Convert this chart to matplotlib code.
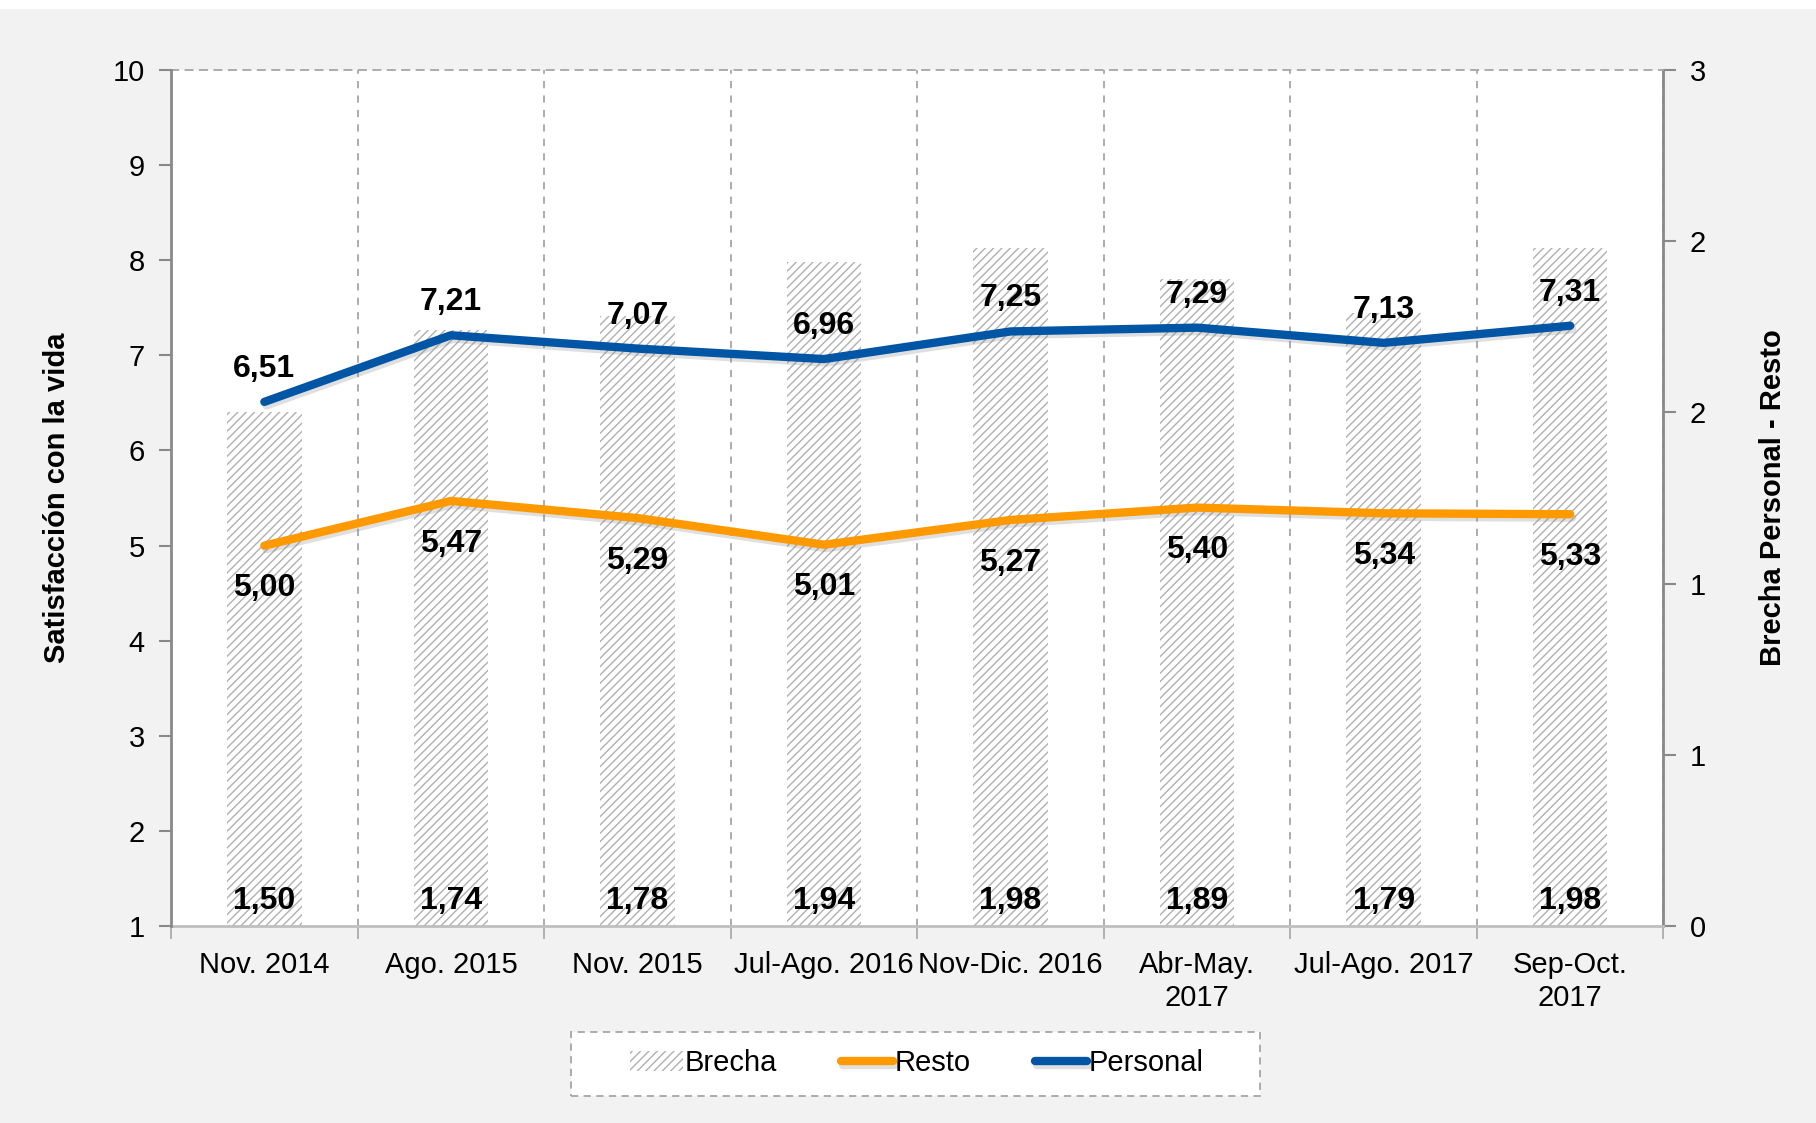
import numpy as np
import matplotlib
matplotlib.use("Agg")
import matplotlib.pyplot as plt
import matplotlib.patheffects as pe

plt.rcParams['font.family'] = ['Liberation Sans', 'DejaVu Sans']
plt.rcParams['hatch.linewidth'] = 1.0

periodos = ['Nov. 2014', 'Ago. 2015', 'Nov. 2015', 'Jul-Ago. 2016', 'Nov-Dic. 2016',
            'Abr-May.\n2017', 'Jul-Ago. 2017', 'Sep-Oct.\n2017']
personal = [6.51, 7.21, 7.07, 6.96, 7.25, 7.29, 7.13, 7.31]
resto = [5.00, 5.47, 5.29, 5.01, 5.27, 5.40, 5.34, 5.33]
brecha = [1.50, 1.74, 1.78, 1.94, 1.98, 1.89, 1.79, 1.98]

def coma(v):
    return f"{v:.2f}".replace('.', ',')

x = np.arange(len(periodos))

fig = plt.figure(figsize=(18.16, 11.23), dpi=100, facecolor='#F2F2F2')
fig.patches.append(plt.Rectangle((0, 0.992), 1, 0.008, transform=fig.transFigure,
                                 facecolor='white', edgecolor='none'))

ax2 = fig.add_axes([0.0942, 0.175, 0.8218, 0.763])
ax = ax2.twinx()
ax.set_zorder(ax2.get_zorder() + 1)
ax.patch.set_visible(False)
ax2.set_facecolor('white')

# barras de brecha (eje derecho)
ax2.bar(x, brecha, width=0.4, color='white', edgecolor='#B0B0B0', linewidth=0,
        hatch='////', label='Brecha')
ax2.set_ylim(0, 2.5)
rticks = np.arange(0, 2.51, 0.5)
ax2.set_yticks(rticks)
ax2.set_yticklabels([str(int(np.floor(t + 0.5))) for t in rticks])
ax2.yaxis.tick_right()
ax2.yaxis.set_label_position('right')
ax2.set_ylabel('Brecha Personal - Resto', fontsize=21, fontweight='bold', labelpad=38)

# lineas (eje izquierdo)
sombra = [pe.SimpleLineShadow(offset=(1.5, -2.5), alpha=0.25, shadow_color='gray'), pe.Normal()]
ax.plot(x, resto, color='#FF9900', lw=6, solid_capstyle='round', path_effects=sombra, label='Resto')
ax.plot(x, personal, color='#0055A5', lw=6, solid_capstyle='round', path_effects=sombra, label='Personal')
ax.set_ylim(1, 10)
ax.set_yticks(range(1, 11))
ax.yaxis.tick_left()
ax.yaxis.set_label_position('left')
ax.set_ylabel('Satisfacción con la vida', fontsize=21, fontweight='bold', labelpad=30)

for i in x:
    ax.annotate(coma(personal[i]), (i, personal[i]), xytext=(0, 13), textcoords='offset points',
                ha='center', va='bottom', fontsize=23, fontweight='bold')
    ax.annotate(coma(resto[i]), (i, resto[i]), xytext=(0, -20), textcoords='offset points',
                ha='center', va='top', fontsize=23, fontweight='bold')
    ax.text(i, 1.27, coma(brecha[i]), ha='center', va='center', fontsize=23, fontweight='bold')

for a in (ax, ax2):
    a.set_xlim(-0.5, len(periodos) - 0.5)
ax2.set_xticks(x)
ax2.set_xticklabels(periodos, fontsize=21, va='top')
ax2.set_xticks(np.arange(-0.5, len(periodos)), minor=True)
ax2.tick_params(axis='x', which='major', length=0, pad=18)
ax2.tick_params(axis='x', which='minor', length=9, width=1.2, color='#A6A6A6')
ax.xaxis.set_visible(False)
ax2.xaxis.grid(True, which='minor', ls=(0, (4, 4)), color='#A6A6A6', lw=1.3)

ax.tick_params(axis='y', labelsize=21, length=9, width=1.5, color='#898989', pad=10)
ax2.tick_params(axis='y', labelsize=21, length=9, width=1.5, color='#898989', pad=10)

for a in (ax, ax2):
    for s in a.spines.values():
        s.set_visible(False)
ax.spines['left'].set_visible(True)
ax.spines['left'].set_color('#898989')
ax.spines['left'].set_linewidth(2)
ax2.spines['right'].set_visible(True)
ax2.spines['right'].set_color('#898989')
ax2.spines['right'].set_linewidth(2)
ax2.spines['bottom'].set_visible(True)
ax2.spines['bottom'].set_color('#BFBFBF')
ax2.spines['bottom'].set_linewidth(2)
ax2.spines['top'].set_visible(True)
ax2.spines['top'].set_color('#A6A6A6')
ax2.spines['top'].set_linestyle((0, (4, 4)))
ax2.spines['top'].set_linewidth(1.3)

# caja de la leyenda
fig.patches.append(plt.Rectangle((0.3144, 0.024), 0.3794, 0.057, transform=fig.transFigure,
                                 facecolor='white', edgecolor='#A6A6A6', lw=1.3,
                                 ls=(0, (4, 3))))
h1, l1 = ax2.get_legend_handles_labels()
h2, l2 = ax.get_legend_handles_labels()
leg = fig.legend(h1 + h2, l1 + l2, loc='center', bbox_to_anchor=(0.505, 0.053), ncol=3,
                 fontsize=21, frameon=False, handlelength=1.8, handletextpad=0.05,
                 columnspacing=2.2)

fig.savefig('out.png', dpi=100, facecolor=fig.get_facecolor())
